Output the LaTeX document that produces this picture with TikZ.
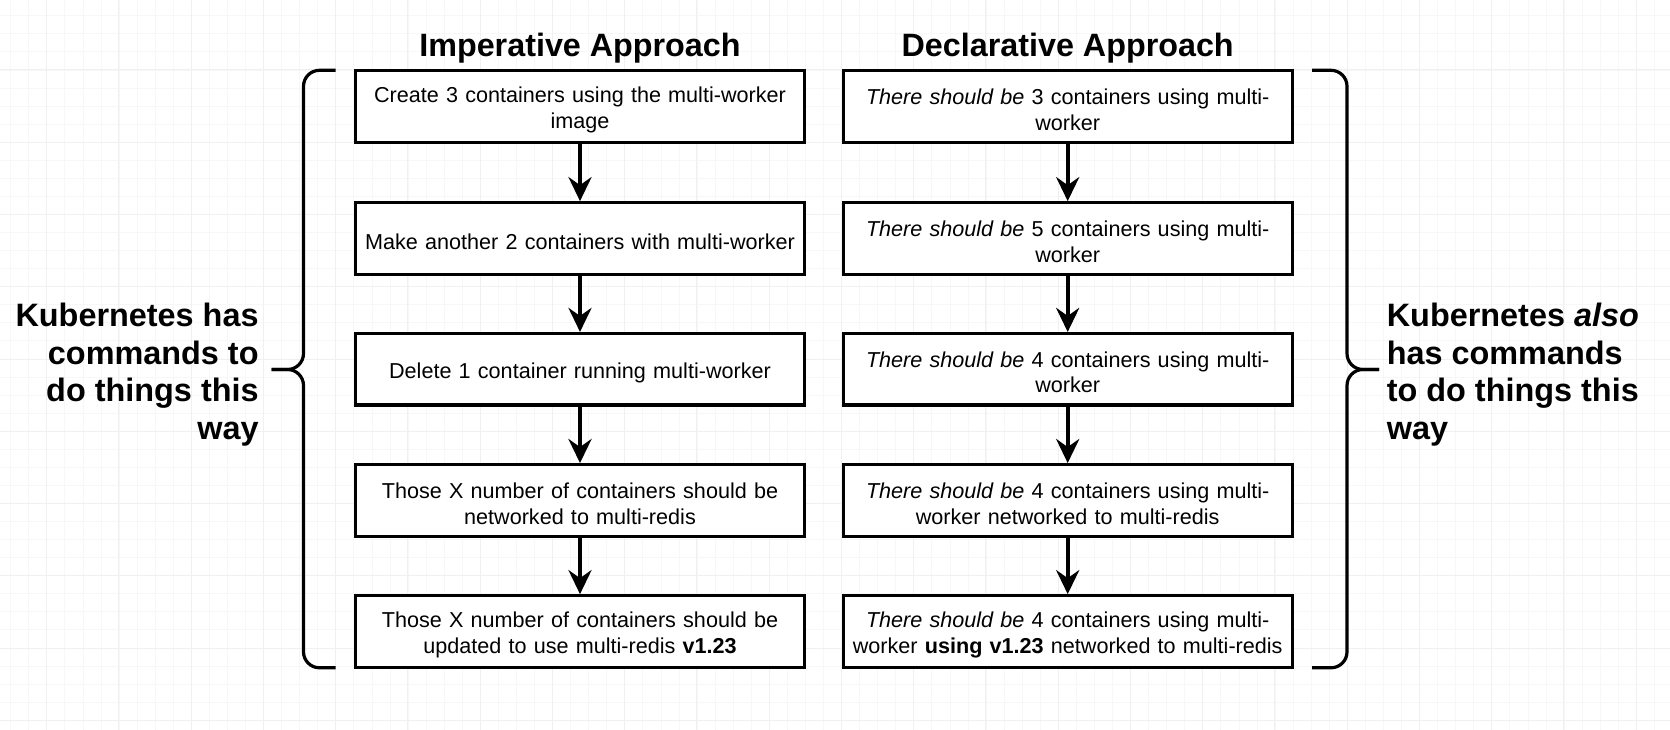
\documentclass[tikz,border=0pt]{standalone}
\usepackage{fontspec}
\setmainfont{Liberation Sans}
\usetikzlibrary{arrows.meta}
\newcommand\boxfont{\fontsize{21.6}{25.6}\selectfont}
\newcommand\titlefont{\fontsize{32.3}{36}\selectfont\bfseries}
\newcommand\sidefont{\fontsize{32.4}{37.7}\selectfont\bfseries}
\begin{document}
\begin{tikzpicture}[x=1pt,y=-1pt,
 stepbox/.style={draw=black, line width=3.2pt, fill=white, minimum width=449pt, minimum height=71.5pt, text width=445pt, align=center, inner sep=0pt, font=\boxfont, execute at begin node={\rule{0pt}{22pt}}},
 flow/.style={line width=4.3pt, -{Stealth[length=24pt,width=23pt,inset=8pt]}},
 brace/.style={line width=3.2pt, rounded corners=16pt},
 gridminor/.style={draw=black!3, line width=0.9pt},
 gridmajor/.style={draw=black!6, line width=1pt},
 title/.style={font=\titlefont, inner sep=0pt},
 side/.style={font=\sidefont, inner sep=0pt}]
\useasboundingbox (0,0) rectangle (1670,730);
\fill[white] (0,0) rectangle (1670,730);
% grid
\foreach \i in {0,...,92} \draw[gridminor] ({10.7+18.0625*\i},0) -- ({10.7+18.0625*\i},730);
\foreach \i in {0,...,40} \draw[gridminor] (0,{-2.25+18.0625*\i}) -- (1670,{-2.25+18.0625*\i});
\foreach \i in {0,...,22} \draw[gridmajor] ({46.7+72.25*\i},0) -- ({46.7+72.25*\i},730);
\foreach \i in {0,...,9} \draw[gridmajor] (0,{70+72.25*\i}) -- (1670,{70+72.25*\i});
% titles
\node[title] (timp) at (580,48) {Imperative Approach};
\node[title] (tdec) at (1067.7,48) {Declarative Approach};
% imperative boxes
\node[stepbox] (i1) at (580,106.5) {Create 3 containers using the multi-worker\\image};
\node[stepbox] (i2) at (580,238.5) {Make another 2 containers with multi-worker};
\node[stepbox] (i3) at (580,369.3) {Delete 1 container running multi-worker};
\node[stepbox] (i4) at (580,500.4) {Those X number of containers should be\\networked to multi-redis};
\node[stepbox] (i5) at (580,631.5) {Those X number of containers should be\\updated to use multi-redis \textbf{v1.23}};
% declarative boxes
\node[stepbox] (d1) at (1067.7,106.5) {\textit{There should be} 3 containers using multi-\\worker};
\node[stepbox] (d2) at (1067.7,238.5) {\textit{There should be} 5 containers using multi-\\worker};
\node[stepbox] (d3) at (1067.7,369.3) {\textit{There should be} 4 containers using multi-\\worker};
\node[stepbox] (d4) at (1067.7,500.4) {\textit{There should be} 4 containers using multi-\\worker networked to multi-redis};
\node[stepbox] (d5) at (1067.7,631.5) {\textit{There should be} 4 containers using multi-\\worker \textbf{using v1.23} networked to multi-redis};
% arrows
\draw[flow] (i1) -- (i2);
\draw[flow] (i2) -- (i3);
\draw[flow] (i3) -- (i4);
\draw[flow] (i4) -- (i5);
\draw[flow] (d1) -- (d2);
\draw[flow] (d2) -- (d3);
\draw[flow] (d3) -- (d4);
\draw[flow] (d4) -- (d5);
% left brace
\coordinate (lbt) at (335.5,70.3);
\coordinate (lbb) at (335.5,667.8);
\coordinate (lbtip) at (271.6,369.5);
\draw[brace] (lbt) -- (303.5,70.3) -- (303.5,369.5) -- (lbtip);
\draw[brace] (lbb) -- (303.5,667.8) -- (303.5,369.5) -- (lbtip);
% right brace
\coordinate (rbt) at (1312,70.3);
\coordinate (rbb) at (1312,667.8);
\coordinate (rbtip) at (1379,369.5);
\draw[brace] (rbt) -- (1347,70.3) -- (1347,369.5) -- (rbtip);
\draw[brace] (rbb) -- (1347,667.8) -- (1347,369.5) -- (rbtip);
% side texts
\node[side, align=right, anchor=east] (lt) at (258.8,374.7) {Kubernetes has\\commands to\\do things this\\way};
\node[side, align=left, anchor=west] (rt) at (1386.6,374.7) {Kubernetes \textit{also}\\has commands\\to do things this\\way};
\end{tikzpicture}
\end{document}
